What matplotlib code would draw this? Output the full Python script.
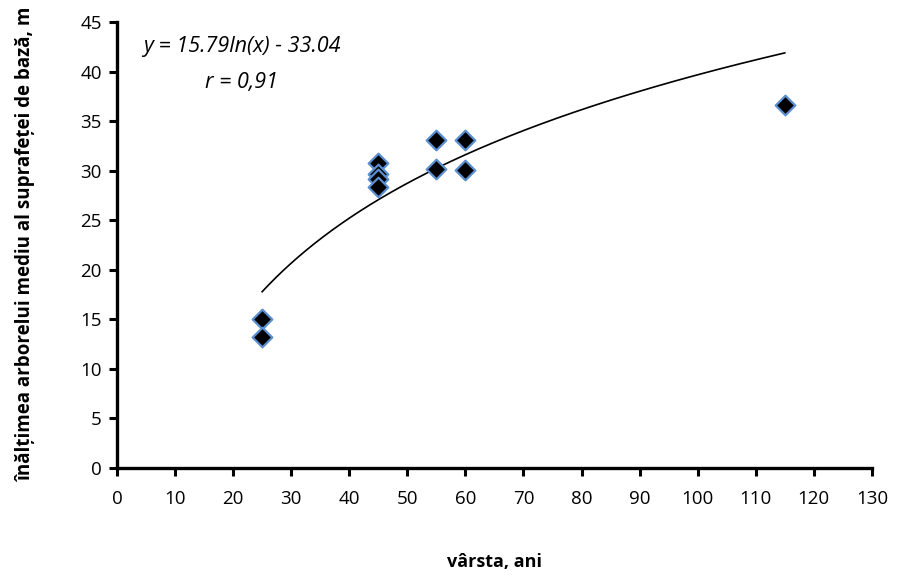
import matplotlib
matplotlib.use("Agg")
import matplotlib.pyplot as plt
import numpy as np

# Stand age (years) and mean basal-area tree height (m)
varsta = [25, 25, 45, 45, 45, 45, 55, 55, 60, 60, 115]
inaltime = [15.0, 13.2, 30.8, 29.7, 29.2, 28.4, 33.1, 30.2, 33.1, 30.1, 36.6]

# Logarithmic trend: y = a*ln(x) + b
coef_a = 15.79
coef_b = -33.04
r_val = "0,91"

x_ticks = list(range(0, 131, 10))
y_ticks = list(range(0, 46, 5))

plt.rcParams['font.family'] = ['Open Sans', 'DejaVu Sans']

fig = plt.figure(figsize=(8.97, 5.79), dpi=100)
ax = fig.add_axes([0.1304, 0.1917, 0.8416, 0.7703])

xs = np.linspace(min(varsta), max(varsta), 300)
ax.plot(xs, coef_a * np.log(xs) + coef_b, color='black', lw=1.2, zorder=2)

ax.scatter(varsta, inaltime, marker='D', s=100, facecolor='black',
           edgecolor='#5b8fd0', linewidth=1.6, zorder=3)

ax.set_xlim(0, 130)
ax.set_ylim(0, 45)
ax.set_xticks(x_ticks)
ax.set_yticks(y_ticks)
ax.tick_params(direction='out', length=6, width=2.2, labelsize=13.5, pad=10)
ax.tick_params(axis='y', pad=5)
for s in ['top', 'right']:
    ax.spines[s].set_visible(False)
for s in ['left', 'bottom']:
    ax.spines[s].set_linewidth(2.4)

ax.set_xlabel('vârsta, ani', fontsize=13, fontweight='bold', labelpad=32)
ax.set_ylabel('înălțimea arborelui mediu al suprafeței de bază, m',
              fontsize=13.5, fontweight='bold', labelpad=32)

ax.text(0.034, 0.944, f'y = {coef_a}ln(x) - {abs(coef_b):.2f}', transform=ax.transAxes,
        fontsize=15.5, style='italic', ha='left', va='center')
ax.text(0.117, 0.865, f'r = {r_val}', transform=ax.transAxes,
        fontsize=15.5, style='italic', ha='left', va='center')

fig.savefig('out.png', dpi=100)
